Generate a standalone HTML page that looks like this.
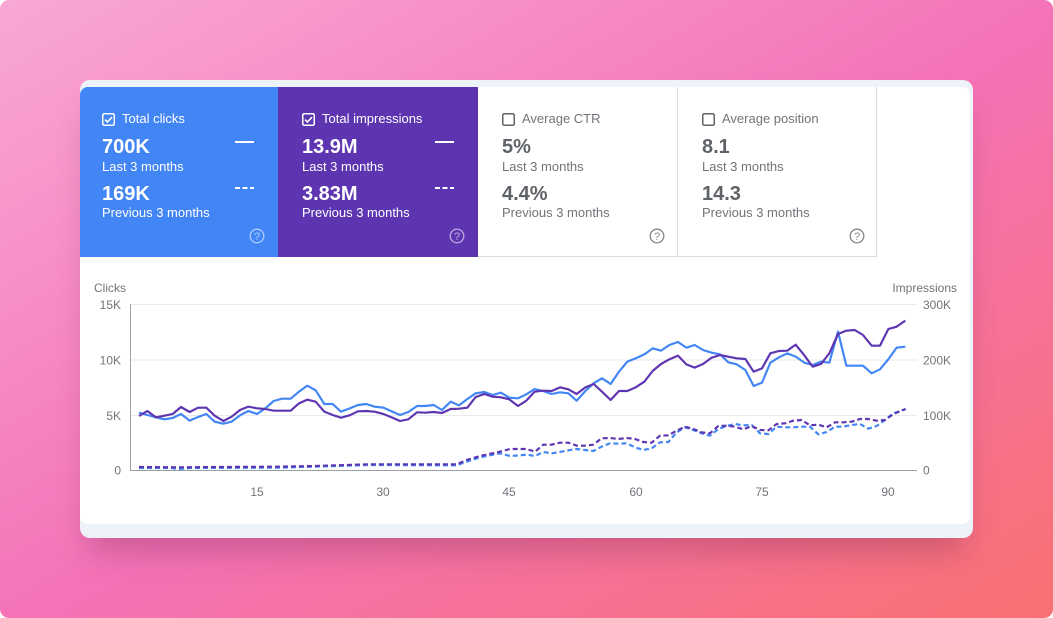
<!DOCTYPE html>
<html><head><meta charset="utf-8">
<style>
*{margin:0;padding:0;box-sizing:border-box}
html,body{width:1053px;height:618px;background:#fff;overflow:hidden;font-family:"Liberation Sans",sans-serif}
.bg{position:absolute;left:0;top:0;width:1053px;height:618px;border-radius:9px;background:linear-gradient(to bottom right,#f9a8d4 0%,#f472b6 52%,#f87171 100%)}
.card{position:absolute;left:80px;top:80px;width:893px;height:458px;background:#eef2f9;border-radius:10px;box-shadow:0 22px 30px -10px rgba(90,20,60,0.28)}
.panel{position:absolute;left:0;top:7px;width:890px;height:437px;background:#fff;border-radius:8px;overflow:hidden}
.tile{position:absolute;top:0;height:170px}
.in{position:absolute;left:0;top:0;width:100%;height:100%}
.purp .in,.w1 .in,.w2 .in{left:2px}
.t{position:absolute;left:0;white-space:nowrap;line-height:1}
.lab{left:42px;top:25px;font-size:13px}
.v1{left:22px;top:50px;font-size:20px;font-weight:bold}
.s1{left:22px;top:72.5px;font-size:13px}
.v2{left:22px;top:96.5px;font-size:20px;font-weight:bold}
.s2{left:22px;top:118.5px;font-size:13px}
.cb{position:absolute;left:22px;top:26px}
.ln{position:absolute;left:155px;top:54px;width:19px;height:2px;background:#fff}
.dl{position:absolute;left:155px;top:100px;width:19px;height:2px;background:repeating-linear-gradient(to right,#fff 0,#fff 5px,transparent 5px,transparent 7.5px)}
.hp{position:absolute;left:169px;top:141px}
.blue{left:0;width:198px;background:#4285f4;color:#fff}
.purp{left:198px;width:200px;background:#5e35b1;color:#fff}
.w1{left:398px;width:200px;border-right:1px solid #dadce0;border-bottom:1px solid #dadce0;color:#5f6368}
.w2{left:598px;width:199px;border-right:1px solid #dadce0;border-bottom:1px solid #dadce0;color:#5f6368}
.w1 .v1,.w1 .v2,.w2 .v1,.w2 .v2{color:#5f6368}
.w1 .s1,.w1 .s2,.w2 .s1,.w2 .s2,.w1 .lab,.w2 .lab{color:#70757a}
svg.chart{position:absolute;left:0;top:0}
</style></head><body>
<div class="bg"></div>
<div class="card">
 <div class="panel">
  <div class="tile blue"><div class="in">
   <svg class="cb" width="13" height="13" viewBox="0 0 13 13"><rect x="0.75" y="0.75" width="11.5" height="11.5" rx="1.5" fill="none" stroke="#fff" stroke-width="1.5"/><path d="M3 6.6 L5.4 9 L10 4.2" fill="none" stroke="#fff" stroke-width="1.6"/></svg>
   <div class="t lab">Total clicks</div>
   <div class="t v1">700K</div>
   <div class="t s1">Last 3 months</div>
   <div class="t v2">169K</div>
   <div class="t s2">Previous 3 months</div>
   <div class="ln"></div><div class="dl"></div>
   <svg class="hp" width="16" height="16" viewBox="0 0 16 16"><circle cx="8" cy="8" r="6.8" fill="none" stroke="rgba(255,255,255,0.55)" stroke-width="1.4"/><text x="8" y="12" text-anchor="middle" font-size="11" fill="rgba(255,255,255,0.6)" font-family="Liberation Sans">?</text></svg>
  </div></div>
  <div class="tile purp"><div class="in">
   <svg class="cb" width="13" height="13" viewBox="0 0 13 13"><rect x="0.75" y="0.75" width="11.5" height="11.5" rx="1.5" fill="none" stroke="#fff" stroke-width="1.5"/><path d="M3 6.6 L5.4 9 L10 4.2" fill="none" stroke="#fff" stroke-width="1.6"/></svg>
   <div class="t lab">Total impressions</div>
   <div class="t v1">13.9M</div>
   <div class="t s1">Last 3 months</div>
   <div class="t v2">3.83M</div>
   <div class="t s2">Previous 3 months</div>
   <div class="ln"></div><div class="dl"></div>
   <svg class="hp" width="16" height="16" viewBox="0 0 16 16"><circle cx="8" cy="8" r="6.8" fill="none" stroke="rgba(255,255,255,0.55)" stroke-width="1.4"/><text x="8" y="12" text-anchor="middle" font-size="11" fill="rgba(255,255,255,0.6)" font-family="Liberation Sans">?</text></svg>
  </div></div>
  <div class="tile w1"><div class="in">
   <svg class="cb" width="13" height="13" viewBox="0 0 13 13"><rect x="0.75" y="0.75" width="11.5" height="11.5" rx="1.5" fill="none" stroke="#5f6368" stroke-width="1.5"/></svg>
   <div class="t lab">Average CTR</div>
   <div class="t v1">5%</div>
   <div class="t s1">Last 3 months</div>
   <div class="t v2">4.4%</div>
   <div class="t s2">Previous 3 months</div>
   <svg class="hp" width="16" height="16" viewBox="0 0 16 16"><circle cx="8" cy="8" r="6.8" fill="none" stroke="#80868b" stroke-width="1.3"/><text x="8" y="12" text-anchor="middle" font-size="11" fill="#80868b" font-family="Liberation Sans">?</text></svg>
  </div></div>
  <div class="tile w2"><div class="in">
   <svg class="cb" width="13" height="13" viewBox="0 0 13 13"><rect x="0.75" y="0.75" width="11.5" height="11.5" rx="1.5" fill="none" stroke="#5f6368" stroke-width="1.5"/></svg>
   <div class="t lab">Average position</div>
   <div class="t v1">8.1</div>
   <div class="t s1">Last 3 months</div>
   <div class="t v2">14.3</div>
   <div class="t s2">Previous 3 months</div>
   <svg class="hp" width="16" height="16" viewBox="0 0 16 16"><circle cx="8" cy="8" r="6.8" fill="none" stroke="#80868b" stroke-width="1.3"/><text x="8" y="12" text-anchor="middle" font-size="11" fill="#80868b" font-family="Liberation Sans">?</text></svg>
  </div></div>
 </div>
</div>

<svg class="chart" width="1053" height="618" viewBox="0 0 1053 618" font-family="Liberation Sans, sans-serif">
 <g stroke="#e8eaed" stroke-width="1">
  <line x1="130" y1="304.5" x2="917" y2="304.5"/>
  <line x1="130" y1="360" x2="917" y2="360"/>
  <line x1="130" y1="415.5" x2="917" y2="415.5"/>
 </g>
 <line x1="130.5" y1="304" x2="130.5" y2="470" stroke="#9aa0a6" stroke-width="1"/>
 <line x1="130" y1="470.5" x2="917" y2="470.5" stroke="#9aa0a6" stroke-width="1"/>
 <g font-size="12" fill="#70757a">
  <text x="94" y="292">Clicks</text>
  <text x="957" y="292" text-anchor="end">Impressions</text>
  <text x="121" y="309" text-anchor="end">15K</text>
  <text x="121" y="364.5" text-anchor="end">10K</text>
  <text x="121" y="420" text-anchor="end">5K</text>
  <text x="121" y="474.5" text-anchor="end">0</text>
  <text x="923" y="309">300K</text>
  <text x="923" y="364.5">200K</text>
  <text x="923" y="420">100K</text>
  <text x="923" y="474.5">0</text>
  <text x="257" y="496" text-anchor="middle">15</text>
  <text x="383" y="496" text-anchor="middle">30</text>
  <text x="509" y="496" text-anchor="middle">45</text>
  <text x="636" y="496" text-anchor="middle">60</text>
  <text x="762" y="496" text-anchor="middle">75</text>
  <text x="888" y="496" text-anchor="middle">90</text>
 </g>
 <g transform="translate(80,270) scale(0.333333)" fill="none" stroke-width="6.5" stroke-linejoin="round" stroke-linecap="butt">
  <polyline stroke="#4285f4" stroke-dasharray="15 9" points="177,594 270,594 300,597 330,594 600,593 700,590 870,585 1130,586 1160,575 1200,562 1260,550 1290,558 1320,556 1340,554 1365,558 1390,546 1415,550 1440,546 1465,541 1490,537 1515,540 1540,543 1565,530 1590,520 1615,521 1640,520 1665,532 1690,540 1715,535 1740,517 1765,516 1790,487 1815,472 1840,480 1865,490 1890,497 1915,477 1940,468 1965,462 1990,466 2015,465 2040,490 2065,492 2090,470 2115,472 2140,472 2165,470 2190,470 2215,493 2240,486 2265,470 2290,470 2315,465 2340,462 2365,476 2390,468 2415,450 2440,430 2477,417"/>
  <polyline stroke="#5e35b1" stroke-dasharray="15 9" points="177,591 300,592 400,591 600,590 700,588 860,583 1130,583 1160,570 1200,558 1260,545 1290,537 1340,537 1365,545 1390,524 1415,524 1440,518 1465,518 1490,527 1515,527 1540,524 1565,505 1590,504 1615,507 1640,504 1665,507 1690,516 1715,518 1740,497 1765,496 1790,482 1815,470 1840,477 1865,487 1890,490 1915,468 1940,467 1965,470 1990,478 2015,468 2040,480 2065,481 2090,462 2115,460 2140,452 2165,450 2190,466 2215,464 2240,472 2265,457 2290,457 2315,455 2340,447 2365,447 2390,452 2415,450 2440,432 2477,417"/>
  <polyline stroke="#4285f4" points="177,428 202,435 228,442 253,448 278,444 303,432 329,452 354,441 379,432 404,455 430,461 455,455 480,436 505,423 531,432 556,415 581,393 606,386 632,386 657,365 682,347 707,361 733,402 758,402 783,425 809,415 834,405 859,402 884,410 910,413 935,424 960,435 985,426 1011,408 1036,408 1061,405 1086,420 1112,395 1137,406 1162,387 1187,370 1213,366 1238,375 1263,368 1288,383 1314,385 1339,373 1364,357 1389,363 1415,372 1440,367 1465,370 1490,392 1516,363 1541,340 1566,325 1592,342 1617,305 1642,275 1667,265 1693,253 1718,235 1743,242 1768,225 1794,216 1819,233 1844,225 1869,240 1895,248 1920,253 1945,277 1970,283 1996,300 2021,348 2046,338 2071,278 2097,262 2122,250 2147,260 2173,278 2198,285 2223,275 2248,278 2274,185 2299,287 2324,287 2349,287 2375,310 2400,298 2425,268 2450,233 2476,230"/>
  <polyline stroke="#5e35b1" points="177,438 202,423 228,442 253,437 278,432 303,411 329,426 354,413 379,413 404,437 430,453 455,440 480,420 505,410 531,415 556,417 581,422 606,422 632,422 657,400 682,389 707,395 733,425 758,435 783,443 809,436 834,424 859,423 884,425 910,432 935,442 960,453 985,448 1011,427 1036,428 1061,426 1086,429 1112,417 1137,416 1162,413 1187,381 1213,372 1238,380 1263,382 1288,388 1314,408 1339,392 1364,365 1389,362 1415,363 1440,352 1465,358 1490,372 1516,352 1541,342 1566,365 1592,390 1617,363 1642,363 1667,352 1693,335 1718,303 1743,282 1768,268 1794,257 1819,283 1844,293 1869,282 1895,263 1920,255 1945,260 1970,265 1996,267 2021,305 2046,295 2071,250 2097,243 2122,242 2147,224 2173,256 2198,290 2223,282 2248,250 2274,192 2299,182 2324,180 2349,195 2375,227 2400,227 2425,177 2450,170 2476,152"/>
 </g>
</svg>
</body></html>
